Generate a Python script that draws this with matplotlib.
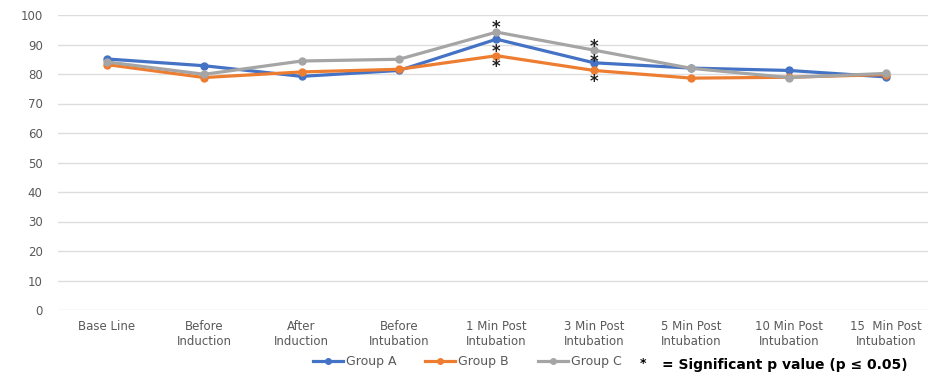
import matplotlib
matplotlib.use("Agg")
import matplotlib.pyplot as plt

categories = ["Base Line", "Before\nInduction", "After\nInduction", "Before\nIntubation",
              "1 Min Post\nIntubation", "3 Min Post\nIntubation", "5 Min Post\nIntubation",
              "10 Min Post\nIntubation", "15  Min Post\nIntubation"]
group_a = [85.1, 82.8, 79.2, 81.2, 91.8, 83.8, 82.0, 81.2, 79.0]
group_b = [83.2, 78.8, 80.7, 81.6, 86.2, 81.2, 78.6, 78.9, 79.8]
group_c = [84.1, 79.9, 84.4, 85.0, 94.2, 88.1, 81.9, 78.8, 80.2]
yticks = list(range(0, 101, 10))

# significance markers: (category index, series they sit on, label, pixel offset)
sig_marks = [(4, "C", "*", 4), (4, "B", "*\n*", -4),
             (5, "C", "*\n*", -4), (5, "B", "*", -12)]

colors = {"A": "#4472C4", "B": "#ED7D31", "C": "#A5A5A5"}
series = {"A": group_a, "B": group_b, "C": group_c}
names = {"A": "Group A", "B": "Group B", "C": "Group C"}

plt.rcParams["font.family"] = ["DejaVu Sans"]

fig = plt.figure(figsize=(9.29, 3.74), dpi=100)
ax = fig.add_axes([58 / 929, 1 - 310 / 374, 877 / 929, 295 / 374])

x = list(range(len(categories)))
handles = []
for key in ["A", "B", "C"]:
    ln, = ax.plot(x, series[key], color=colors[key], lw=2.3, marker="o",
                  markersize=5, label=names[key], zorder=3)
    handles.append(ln)

for idx, key, label, off in sig_marks:
    ax.annotate(label, xy=(idx, series[key][idx]), xytext=(0, off),
                textcoords="offset pixels", ha="center", va="center",
                fontsize=12, fontweight="bold", color="#222222", zorder=4,
                linespacing=0.8)

ax.set_xlim(-0.5, len(categories) - 0.5)
ax.set_ylim(0, 100)
ax.set_yticks(yticks)
ax.set_xticks(x)
ax.set_xticklabels(categories)
ax.grid(axis="y", color="#DDDDDD", lw=1)
ax.set_axisbelow(True)
for s in ax.spines.values():
    s.set_visible(False)
ax.tick_params(axis="both", length=0, colors="#595959", labelsize=8.5)
ax.tick_params(axis="y", pad=11)
ax.tick_params(axis="x", pad=7)

fig.legend(handles=handles, loc="center", bbox_to_anchor=(467 / 929, 1 - 362 / 374),
           ncol=3, frameon=False, fontsize=9, labelcolor="#595959",
           handlelength=2.4, handletextpad=0.25, columnspacing=2.3, markerscale=0.8)
fig.text(643 / 929, 1 - 364 / 374, "*", ha="center", va="center", fontsize=9,
         fontweight="bold", color="black")
fig.text(662 / 929, 1 - 365 / 374, "= Significant p value (p \u2264 0.05)",
         ha="left", va="center", fontsize=10, fontweight="bold", color="black")

fig.savefig("out.png", dpi=100)
